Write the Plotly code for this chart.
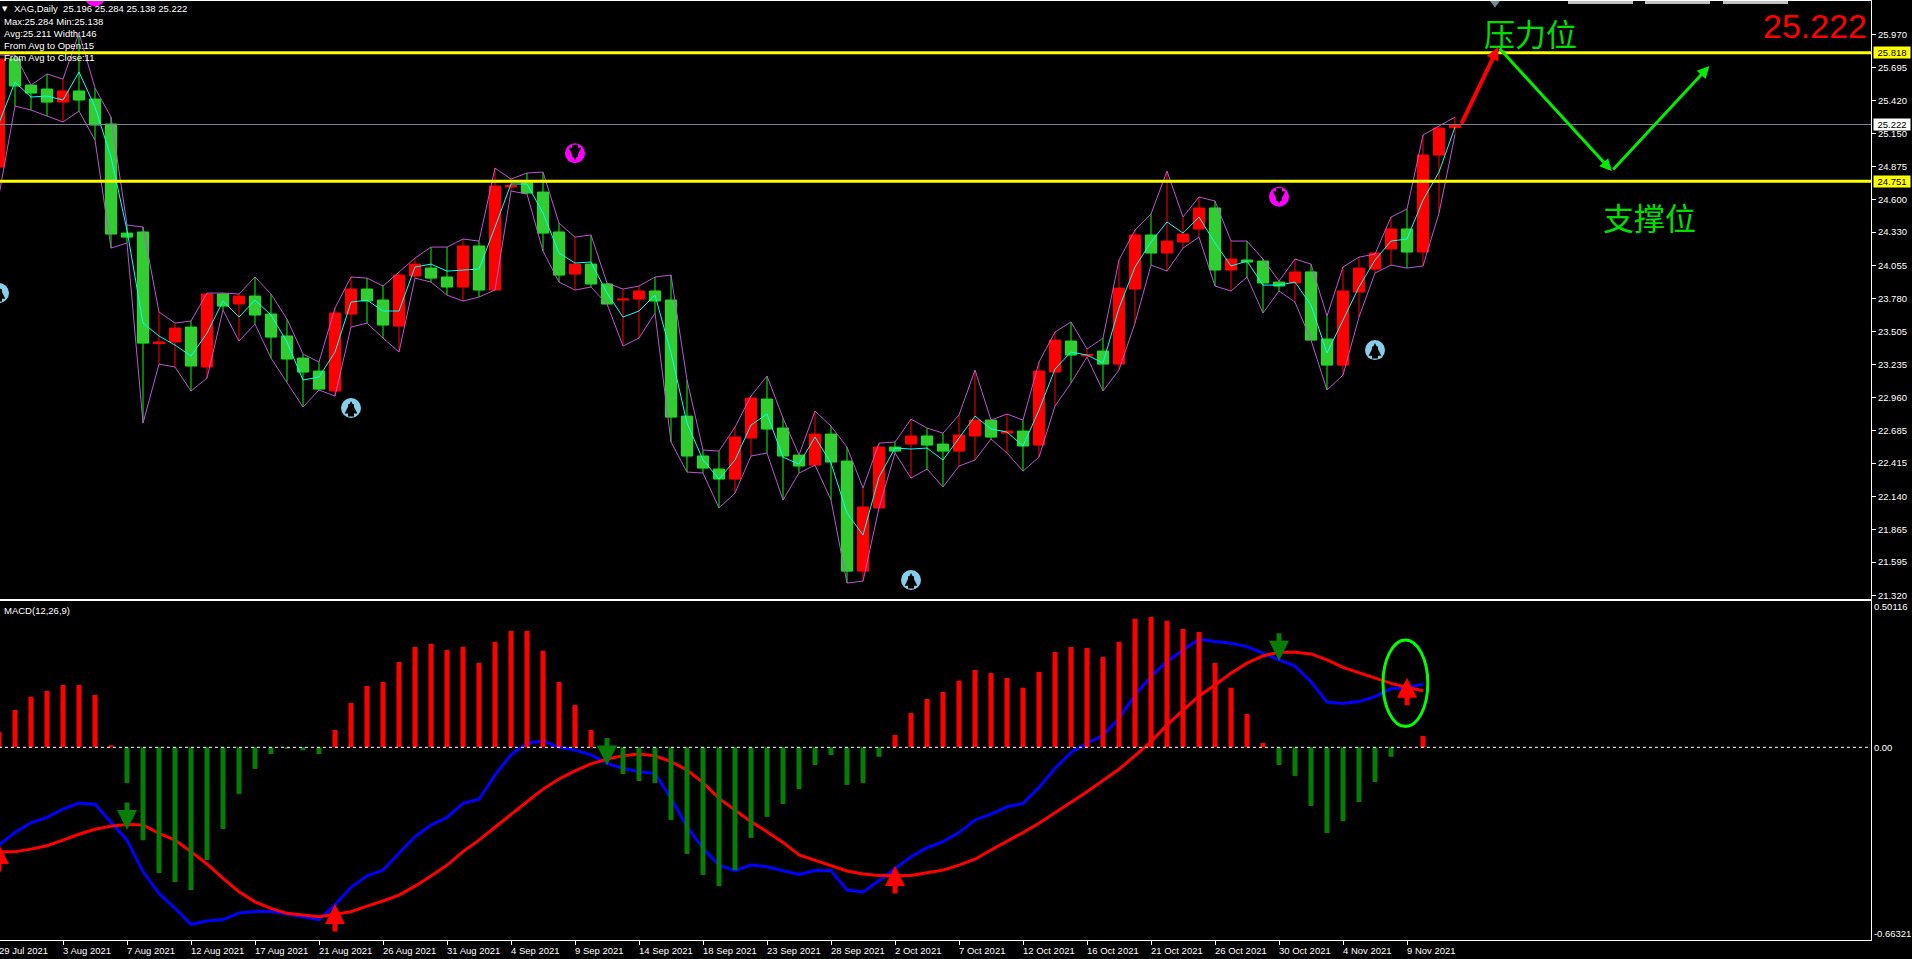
import plotly.graph_objects as go

bar_index = list(range(92))
open_price = [24.870,25.765,25.549,25.516,25.408,25.500,25.433,25.226,24.322,24.331,
 23.406,23.419,23.543,23.212,23.817,23.734,23.800,23.651,23.469,23.286,
 23.178,23.013,23.651,23.858,23.767,23.551,23.966,24.032,23.958,23.875,
 24.215,23.850,24.704,24.737,24.662,24.331,23.982,24.065,23.900,23.767,
 23.775,23.842,23.767,22.805,22.474,22.366,22.283,22.623,22.946,22.706,
 22.482,22.399,22.656,22.432,21.520,22.043,22.548,22.573,22.640,22.573,
 22.515,22.640,22.772,22.664,22.681,22.565,23.170,23.427,23.303,23.344,
 23.236,23.858,24.306,24.157,24.248,24.356,24.530,24.016,24.099,24.090,
 23.916,23.908,24.000,23.444,23.228,23.833,24.024,24.190,24.356,24.165,
 24.969,25.196]
close_price = [25.765,25.541,25.483,25.408,25.500,25.425,25.218,24.314,24.289,23.410,
 23.419,23.535,23.220,23.817,23.717,23.800,23.643,23.460,23.278,23.170,
 23.029,23.659,23.858,23.759,23.560,23.974,24.065,23.949,23.875,24.215,
 23.850,24.712,24.716,24.654,24.322,23.974,24.065,23.900,23.734,23.775,
 23.842,23.759,22.797,22.474,22.374,22.283,22.631,22.955,22.698,22.474,
 22.391,22.656,22.424,21.520,22.051,22.548,22.515,22.640,22.565,22.515,
 22.648,22.772,22.631,22.681,22.557,23.178,23.435,23.311,23.315,23.236,
 23.866,24.306,24.157,24.256,24.314,24.530,24.016,24.107,24.082,23.908,
 23.883,24.000,23.435,23.228,23.842,24.032,24.157,24.356,24.165,24.969,
 25.193,25.222]
high_price = [25.798,25.798,25.549,25.641,25.599,25.980,25.524,25.284,24.389,24.372,
 23.668,23.576,23.593,23.825,23.825,23.817,23.958,23.817,23.609,23.319,
 23.253,23.701,23.958,23.949,23.883,24.000,24.115,24.206,24.206,24.273,
 24.256,24.861,24.770,24.820,24.828,24.405,24.289,24.306,23.908,23.858,
 23.883,23.958,23.974,23.104,22.524,22.515,22.714,22.971,23.137,22.789,
 22.482,22.847,22.722,22.548,22.208,22.581,22.590,22.780,22.706,22.664,
 22.814,23.187,22.772,22.822,22.772,23.253,23.502,23.585,23.361,23.452,
 24.099,24.347,24.480,24.836,24.455,24.621,24.588,24.256,24.256,24.107,
 23.924,24.107,24.065,23.634,24.041,24.123,24.148,24.455,24.521,25.135,
 25.209,25.284]
low_price = [24.637,25.375,25.342,25.292,25.243,25.334,25.093,24.198,24.240,22.747,
 23.236,23.212,23.013,23.120,23.684,23.427,23.568,23.286,23.087,22.880,
 23.021,22.971,23.543,23.576,23.452,23.336,23.949,23.916,23.808,23.759,
 23.792,23.850,24.671,24.646,24.173,23.916,23.850,23.875,23.734,23.386,
 23.452,23.659,22.590,22.341,22.333,22.043,22.167,22.474,22.499,22.109,
 22.333,22.399,22.109,21.421,21.437,22.043,22.499,22.291,22.366,22.217,
 22.391,22.441,22.615,22.499,22.349,22.465,22.888,23.079,23.294,23.013,
 23.187,23.576,24.057,24.007,24.198,24.289,23.883,23.842,23.958,23.659,
 23.842,23.750,23.435,23.021,23.145,23.626,23.991,24.057,24.032,24.049,
 24.488,25.138]
mid_price = [25.234,25.574,25.450,25.458,25.425,25.657,25.367,24.952,24.347,23.576,
 23.469,23.394,23.303,23.493,23.759,23.626,23.767,23.643,23.419,23.104,
 23.129,23.336,23.750,23.767,23.676,23.676,24.041,24.065,24.007,24.016,
 24.024,24.372,24.729,24.729,24.488,24.157,24.074,24.082,23.825,23.626,
 23.676,23.808,23.328,22.747,22.441,22.283,22.441,22.731,22.822,22.465,
 22.407,22.631,22.416,22.001,21.819,22.300,22.540,22.532,22.540,22.441,
 22.623,22.805,22.698,22.673,22.557,22.855,23.195,23.336,23.311,23.245,
 23.701,24.041,24.248,24.414,24.322,24.455,24.240,24.049,24.090,23.891,
 23.891,23.916,23.725,23.328,23.601,23.875,24.099,24.256,24.273,24.596,
 24.828,25.201]

macd_hist = [.055,.133,.180,.201,.222,.222,.187,.007,-.127,-.331,
 -.448,-.480,-.509,-.402,-.291,-.166,-.077,-.024,-.005,-.010,
 -.024,.062,.158,.219,.233,.304,.358,.369,.347,.358,
 .301,.376,.415,.415,.344,.233,.151,.062,-.010,-.095,
 -.120,-.127,-.259,-.380,-.455,-.495,-.438,-.323,-.248,-.202,
 -.149,-.063,-.027,-.134,-.127,-.034,.044,.122,.172,.197,
 .237,.276,.265,.247,.212,.269,.340,.358,.354,.322,
 .376,.458,.465,.451,.422,.411,.301,.212,.119,.015,
 -.063,-.102,-.209,-.306,-.263,-.195,-.124,-.034,.002,.040]
macd_blue = [-.348,-.304,-.269,-.250,-.220,-.199,-.203,-.268,-.331,-.443,
 -.521,-.574,-.631,-.619,-.614,-.591,-.585,-.585,-.595,-.604,
 -.614,-.562,-.499,-.458,-.438,-.378,-.319,-.277,-.250,-.200,
 -.185,-.099,-.027,.014,.023,.000,-.010,-.027,-.057,-.075,
 -.087,-.093,-.182,-.283,-.360,-.420,-.440,-.420,-.426,-.440,
 -.453,-.439,-.439,-.509,-.516,-.476,-.432,-.390,-.358,-.336,
 -.304,-.259,-.238,-.212,-.200,-.143,-.075,-.018,.014,.043,
 .103,.187,.252,.306,.347,.385,.377,.371,.359,.335,
 .312,.290,.234,.161,.156,.163,.181,.209,.213,.225]
macd_red = [-.372,-.372,-.363,-.351,-.331,-.310,-.292,-.281,-.275,-.277,
 -.307,-.331,-.372,-.416,-.467,-.515,-.551,-.574,-.592,-.599,
 -.604,-.595,-.586,-.566,-.548,-.527,-.495,-.459,-.420,-.372,
 -.331,-.285,-.241,-.194,-.149,-.113,-.084,-.059,-.042,-.030,
 -.024,-.030,-.051,-.081,-.126,-.182,-.224,-.265,-.301,-.339,
 -.384,-.404,-.422,-.441,-.452,-.457,-.458,-.457,-.447,-.438,
 -.420,-.399,-.366,-.336,-.304,-.271,-.235,-.196,-.158,-.119,
 -.078,-.030,.020,.080,.133,.183,.222,.264,.300,.326,
 .339,.339,.333,.312,.285,.266,.246,.228,.214,.202]

tick_bars = list(range(0, 89, 4))
tick_labels = ["29 Jul 2021","3 Aug 2021","7 Aug 2021","12 Aug 2021","17 Aug 2021","21 Aug 2021",
 "26 Aug 2021","31 Aug 2021","4 Sep 2021","9 Sep 2021","14 Sep 2021","18 Sep 2021","23 Sep 2021",
 "28 Sep 2021","2 Oct 2021","7 Oct 2021","12 Oct 2021","16 Oct 2021","21 Oct 2021","26 Oct 2021",
 "30 Oct 2021","4 Nov 2021","9 Nov 2021"]
price_ticks = [25.970,25.695,25.420,25.150,24.875,24.600,24.330,24.055,23.780,23.505,23.235,
 22.960,22.685,22.415,22.140,21.865,21.595,21.320]
macd_ticks = [0.50116, 0.0, -0.66321]
macd_tick_text = ["0.50116", "0.00", "-0.66321"]
level_resistance = 25.818
level_support = 24.751
level_bid = 25.222

buy_icon_bars = [0, 22, 57, 86]
buy_icon_prices = [23.825, 22.872, 21.446, 23.352]
sell_icon_bars = [6, 36, 80]
sell_icon_prices = [26.283, 24.984, 24.623]
macd_up_bars = [0, 21, 56, 88]
macd_up_tips = [-.345, -.559, -.423, .248]
macd_down_bars = [8, 38, 80]
macd_down_tips = [-.295, -.065, .309]
path_bars = [91.36, 93.7, 100.8, 106.9]
path_prices = [25.218, 25.864, 24.836, 25.707]

assert all(len(a) == 92 for a in (open_price, close_price, high_price, low_price, mid_price))
assert all(len(a) == 90 for a in (macd_hist, macd_blue, macd_red))

BG = "#000000"
FONT = "Liberation Sans"
fig = go.Figure()

def px_x(p):
    return (p + 1) / 1872.0
def px_y(p):
    return (940 - p) / 939.0

fig.add_trace(go.Candlestick(x=bar_index, open=open_price, high=high_price, low=low_price, close=close_price,
    increasing=dict(line=dict(color="#ff0000", width=1), fillcolor="#ff0000"),
    decreasing=dict(line=dict(color="#00ff00", width=1), fillcolor="#32cd32"),
    whiskerwidth=0, xaxis="x", yaxis="y"))
body_top = [max(o, c) for o, c in zip(open_price, close_price)]
body_bot = [min(o, c) for o, c in zip(open_price, close_price)]
fig.add_trace(go.Candlestick(x=bar_index, open=open_price, high=body_top, low=body_bot, close=close_price,
    increasing=dict(line=dict(color="#ff0000", width=0), fillcolor="#ff0000"),
    decreasing=dict(line=dict(color="#32cd32", width=0), fillcolor="#32cd32"),
    whiskerwidth=0, xaxis="x", yaxis="y"))
for series in (high_price, low_price):
    fig.add_trace(go.Scatter(x=bar_index, y=series, mode="lines", line=dict(color="#ba55d3", width=1),
                             xaxis="x", yaxis="y"))
fig.add_trace(go.Scatter(x=bar_index, y=mid_price, mode="lines", line=dict(color="#00ffff", width=1),
                         xaxis="x", yaxis="y"))

for lv, col, w in ((level_bid, "#778899", 1), (level_resistance, "#ffff00", 3), (level_support, "#ffff00", 3)):
    fig.add_trace(go.Scatter(x=[0, 117], y=[lv, lv], mode="lines", line=dict(color=col, width=w),
                             xaxis="x", yaxis="y"))

fig.add_trace(go.Scatter(x=buy_icon_bars, y=buy_icon_prices, mode="markers",
    marker=dict(symbol="circle", size=20, color="#87ceeb", line=dict(width=0)), xaxis="x", yaxis="y"))
fig.add_trace(go.Scatter(x=sell_icon_bars, y=sell_icon_prices, mode="markers",
    marker=dict(symbol="circle", size=20, color="#ff00ff", line=dict(width=0)), xaxis="x", yaxis="y"))
fig.add_trace(go.Scatter(x=[93.5], y=[26.23], mode="markers",
    marker=dict(symbol="triangle-down", size=9, color="#778899"), xaxis="x", yaxis="y"))

# MACD pane: signal lines first, histogram drawn over them
fig.add_trace(go.Scatter(x=bar_index[:90], y=macd_blue, mode="lines", line=dict(color="#0000ff", width=3),
                         xaxis="x2", yaxis="y2"))
fig.add_trace(go.Scatter(x=bar_index[:90], y=macd_red, mode="lines", line=dict(color="#ff0000", width=3),
                         xaxis="x2", yaxis="y2"))
for positive, col in ((True, "#ff0000"), (False, "#077d07")):
    hx, hy = [], []
    for b, v in zip(bar_index, macd_hist):
        if (v >= 0) == positive:
            hx += [b, b, None]
            hy += [0, v, None]
    fig.add_trace(go.Scatter(x=hx, y=hy, mode="lines", line=dict(color=col, width=5),
                             connectgaps=False, xaxis="x2", yaxis="y2"))

ann = []
for b, t in zip(tick_bars, tick_labels):
    ann.append(dict(x=b, y=0, xref="x2", yref="paper", text=t, showarrow=False, xanchor="left", yanchor="top",
                    yshift=-3, xshift=-2, font=dict(family=FONT, size=9.5, color="#ffffff")))
info = [("XAG,Daily\u00a0\u00a025.196 25.284 25.138 25.222", 12, 9),
        ("Max:25.284 Min:25.138", 2, 21.5), ("Avg:25.211 Width:146", 2, 33.5),
        ("From Avg to Open:15", 2, 45.5), ("From Avg to Close:11", 2, 57.5),
        ("MACD(12,26,9)", 2, 610)]
for t, px, py in info:
    ann.append(dict(x=px_x(px), y=px_y(py), xref="paper", yref="paper", text=t, showarrow=False,
                    xanchor="left", yanchor="middle", font=dict(family=FONT, size=9.5, color="#ffffff")))
ann.append(dict(x=px_x(5), y=px_y(9), xref="paper", yref="paper", text="▼", showarrow=False,
                xanchor="center", yanchor="middle", font=dict(family="DejaVu Sans", size=7, color="#ffffff")))
ann.append(dict(x=px_x(1530), y=px_y(32), xref="paper", yref="paper", text="压力位", showarrow=False,
                xanchor="center", yanchor="middle", font=dict(family="Noto Sans CJK SC", size=31, color="#00e000")))
ann.append(dict(x=px_x(1649), y=px_y(216), xref="paper", yref="paper", text="支撑位", showarrow=False,
                xanchor="center", yanchor="middle", font=dict(family="Noto Sans CJK SC", size=31, color="#00e000")))
ann.append(dict(x=px_x(1869), y=px_y(26), xref="paper", yref="paper", text="25.222", showarrow=False,
                xanchor="right", yanchor="middle", font=dict(family=FONT, size=34, color="#ff0000")))
for lv, bg in ((level_resistance, "#ffff00"), (level_support, "#ffff00"), (level_bid, "#ffffff")):
    ann.append(dict(x=1, y=lv, xref="paper", yref="y", text=f"{lv:.3f}", showarrow=False, xanchor="left",
                    xshift=2, width=36, height=11, bgcolor=bg, borderpad=0, align="center",
                    font=dict(family=FONT, size=9.5, color="#000000")))
for k, (col, w, hs) in enumerate((("#ff0000", 4, 0.65), ("#00ee00", 3, 0.8), ("#00ee00", 3, 0.8))):
    ann.append(dict(x=path_bars[k + 1], y=path_prices[k + 1], ax=path_bars[k], ay=path_prices[k],
                    xref="x", yref="y", axref="x", ayref="y", text="", showarrow=True, arrowhead=2,
                    arrowsize=hs, arrowwidth=w, arrowcolor=col))
for b, p in zip(buy_icon_bars, buy_icon_prices):
    ann.append(dict(x=b, y=p + 0.058, xref="x", yref="y", ax=0, ay=17, text="", showarrow=True, arrowhead=2,
                    arrowsize=0.42, arrowwidth=6, arrowcolor="#000000"))
for b, p in zip(sell_icon_bars, sell_icon_prices):
    ann.append(dict(x=b, y=p - 0.058, xref="x", yref="y", ax=0, ay=-17, text="", showarrow=True, arrowhead=2,
                    arrowsize=0.42, arrowwidth=6, arrowcolor="#000000"))
for b, v in zip(macd_up_bars, macd_up_tips):
    ann.append(dict(x=b, y=v, xref="x2", yref="y2", ax=0, ay=29, text="", showarrow=True, arrowhead=2,
                    arrowsize=0.8, arrowwidth=5, arrowcolor="#ff0000"))
for b, v in zip(macd_down_bars, macd_down_tips):
    ann.append(dict(x=b, y=v, xref="x2", yref="y2", ax=0, ay=-29, text="", showarrow=True, arrowhead=2,
                    arrowsize=0.8, arrowwidth=5, arrowcolor="#077d07"))

shapes = [
    dict(type="line", xref="x2", yref="y2", x0=0, x1=117, y0=0, y1=0, layer="above",
         line=dict(color="#ffffff", width=1, dash="3px,3px")),
    dict(type="circle", xref="x2", yref="y2", x0=86.5, x1=89.3, y0=.074, y1=.383, layer="above",
         line=dict(color="#00ff00", width=3)),
]
for a, b in ((1568, 1633), (1645, 1710), (1723, 1788)):
    shapes.append(dict(type="rect", xref="paper", yref="paper", x0=px_x(a), x1=px_x(b),
                       y0=px_y(4), y1=1, fillcolor="#c0c0c0", line=dict(width=0), layer="above"))

axis_common = dict(showgrid=False, zeroline=False, color="#ffffff", linecolor="#ffffff", linewidth=1)
fig.update_layout(
    width=1913, height=959, margin=dict(l=0, r=41, t=1, b=19, pad=0, autoexpand=False),
    paper_bgcolor=BG, plot_bgcolor=BG, showlegend=False, hovermode=False, boxgap=0.3, boxgroupgap=0,
    font=dict(family=FONT, size=9.5, color="#ffffff"),
    annotations=ann, shapes=shapes,
    xaxis=dict(domain=[0, 1], range=[0, 117], anchor="y", showline=True, mirror=True, showticklabels=False,
               ticks="", rangeslider=dict(visible=False), **axis_common),
    xaxis2=dict(domain=[0, 1], range=[0, 117], anchor="y2", matches="x", showline=True, mirror=True,
                tickmode="array", tickvals=tick_bars, ticktext=[""] * len(tick_bars), ticks="outside",
                ticklen=4, tickcolor="#ffffff", rangeslider=dict(visible=False), **axis_common),
    yaxis=dict(domain=[px_y(598.5), 1], range=[21.293, 26.246], side="right", anchor="x", showline=True,
               tickmode="array", tickvals=price_ticks, ticktext=[f"{v:.3f}" for v in price_ticks],
               ticks="outside", ticklen=4, tickcolor="#ffffff", tickfont=dict(family=FONT, size=9.5, color="#ffffff"),
               **axis_common),
    yaxis2=dict(domain=[0, px_y(600.5)], range=[-.687, .5235], side="right", anchor="x2", showline=True,
                tickmode="array", tickvals=macd_ticks, ticktext=macd_tick_text, ticks="",
                tickfont=dict(family=FONT, size=9.5, color="#ffffff"), **axis_common),
)
fig.write_html("out.html", config=dict(displayModeBar=False), post_script=
    "document.body.style.margin='0 0 0 -1px';document.body.style.background='#000';"
    "document.documentElement.style.overflow='hidden';document.documentElement.style.background='#000';")
